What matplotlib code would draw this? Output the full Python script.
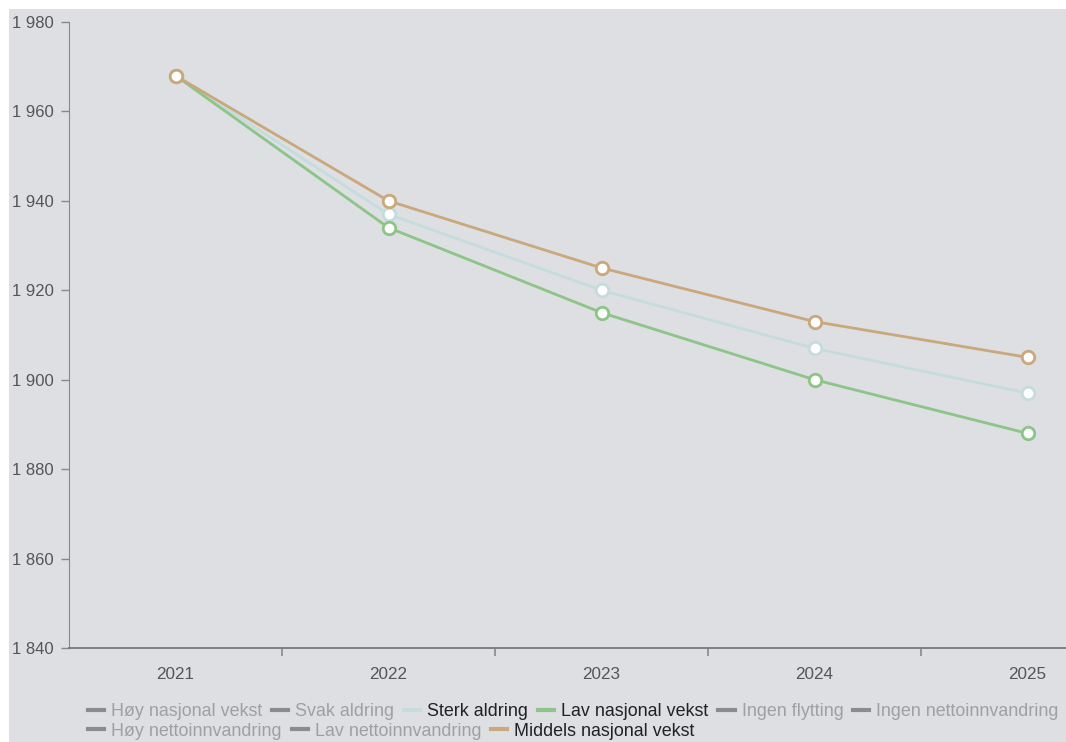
import matplotlib.pyplot as plt
from matplotlib.lines import Line2D
from matplotlib.patches import Rectangle
from matplotlib.ticker import FuncFormatter

plt.rcParams['font.family'] = ['Liberation Sans', 'DejaVu Sans']

years = ['2021', '2022', '2023', '2024', '2025']
sterk_aldring = [1968, 1937, 1920, 1907, 1897]
lav_nasjonal = [1968, 1934, 1915, 1900, 1888]
middels_nasjonal = [1968, 1940, 1925, 1913, 1905]

legend_row1 = ['Høy nasjonal vekst', 'Svak aldring', 'Sterk aldring',
               'Lav nasjonal vekst', 'Ingen flytting', 'Ingen nettoinnvandring']
legend_row2 = ['Høy nettoinnvandring', 'Lav nettoinnvandring', 'Middels nasjonal vekst']

bg = '#dedfe3'
hidden = '#8c8c8c'
colors = {'Sterk aldring': '#c5dcdc', 'Lav nasjonal vekst': '#8dc487',
          'Middels nasjonal vekst': '#c9a87c'}

W, H = 1066, 742
fig = plt.figure(figsize=(W / 100, H / 100), dpi=100)
fig.patch.set_facecolor('white')
fig.patches.append(Rectangle((9 / W, 0), 1, (H - 9) / H, transform=fig.transFigure,
                             facecolor=bg, edgecolor='none', zorder=-10))

ax = fig.add_axes([69 / W, (H - 648) / H, (W - 69) / W, 626 / H])
ax.set_facecolor(bg)

x = range(len(years))
for vals, name in [(sterk_aldring, 'Sterk aldring'), (lav_nasjonal, 'Lav nasjonal vekst'),
                   (middels_nasjonal, 'Middels nasjonal vekst')]:
    ax.plot(x, vals, color=colors[name], lw=2, marker='o', ms=9,
            mfc='white', mec=colors[name], mew=2, clip_on=False)

ax.set_ylim(1840, 1980)
ax.set_yticks(range(1840, 1981, 20))
ax.yaxis.set_major_formatter(FuncFormatter(lambda v, p: f'{int(v):,}'.replace(',', ' ')))
ax.set_xlim(-0.5, 4.5 - (1134 - 1066) / 213)
ax.set_xticks(list(x))
ax.set_xticklabels(years)
ax.set_xticks([0.5, 1.5, 2.5, 3.5], minor=True)
ax.tick_params(axis='x', which='major', length=0, pad=14, labelsize=12.3, labelcolor='#555555')
ax.tick_params(axis='x', which='minor', length=6, width=1.2, color='#888888', direction='out')
ax.tick_params(axis='y', length=6, width=1, color='#888888', pad=5, labelsize=12,
               labelcolor='#555555')

for s in ['top', 'right']:
    ax.spines[s].set_visible(False)
ax.spines['left'].set_color('#888888')
ax.spines['bottom'].set_color('#777777')
ax.spines['bottom'].set_linewidth(1.3)

def legend_row(labels, y):
    handles = [Line2D([], [], color=colors.get(l, hidden), lw=3) for l in labels]
    leg = fig.legend(handles, labels, loc='center left', bbox_to_anchor=(88 / W, y),
                     ncol=len(labels), frameon=False, fontsize=12.85, handlelength=0.9,
                     handletextpad=0.4, columnspacing=0.55, borderpad=0, borderaxespad=0)
    for t, l in zip(leg.get_texts(), labels):
        t.set_color('#222222' if l in colors else '#a0a0a0')

legend_row(legend_row1, (H - 712) / H)
legend_row(legend_row2, (H - 731) / H)

fig.savefig('out.png', dpi=100, facecolor=fig.get_facecolor())
